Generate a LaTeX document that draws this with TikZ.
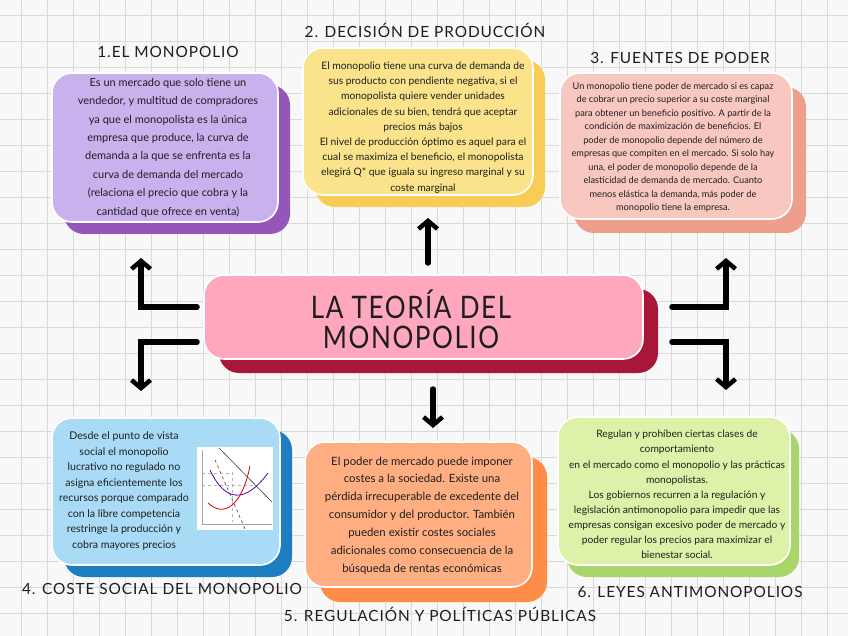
\documentclass[tikz,border=0pt]{standalone}
\usepackage{fontspec}
\setmainfont{Lato}
\newfontfamily\tfont[LetterSpace=6]{Lato}
\newfontfamily\cfont[LetterSpace=5,FakeStretch=0.84]{Lato}
\usetikzlibrary{arrows.meta}
\definecolor{bgcol}{HTML}{F8F8F8}
\definecolor{gridcol}{HTML}{D9D9D9}
\definecolor{pfront}{HTML}{C9B1EE}
\definecolor{pshade}{HTML}{9655B8}
\definecolor{yfront}{HTML}{FBE38B}
\definecolor{yshade}{HTML}{F9CD55}
\definecolor{sfront}{HTML}{F8C8C0}
\definecolor{sshade}{HTML}{EE9E8D}
\definecolor{cfront}{HTML}{FFA8BD}
\definecolor{cshade}{HTML}{A8173A}
\definecolor{bfront}{HTML}{A9DBF7}
\definecolor{bshade}{HTML}{1D7DC1}
\definecolor{ofront}{HTML}{FFAE82}
\definecolor{oshade}{HTML}{FF8D48}
\definecolor{gfront}{HTML}{DDF2A8}
\definecolor{gshade}{HTML}{A9D66A}
\definecolor{ink}{HTML}{1E1E1E}
\begin{document}
\begin{tikzpicture}[x=1pt,y=-1pt,
  front/.style={draw=white, line width=1.6pt, rounded corners=20pt, fill=#1, inner sep=0pt},
  shadebox/.style={rounded corners=20pt, fill=#1, inner sep=0pt},
  txt/.style={align=center, text=ink, inner sep=0pt},
  ttl/.style={text=ink, inner sep=0pt, font=\tfont\fontsize{15.4}{18}\selectfont},
  arr/.style={draw=black, line width=5.5pt, line join=miter, line cap=round, -{Straight Barb[length=8pt,width=19pt,line width=4.5pt]}},
  gax/.style={draw=gray!70, line width=0.5pt},
]
\useasboundingbox (0,0) rectangle (848,636);
\fill[bgcol] (0,0) rectangle (848,636);
\foreach \x in {21,47,...,848} \draw[gridcol, line width=0.6pt] (\x,0) -- (\x,636);
\foreach \y in {15,41,...,636} \draw[gridcol, line width=0.6pt] (0,\y) -- (848,\y);

% ---- box 1
\node[shadebox=pshade, minimum width=226pt, minimum height=149pt] (s1) at (177,159.5) {};
\node[front=pfront, minimum width=226pt, minimum height=149pt] (b1) at (165,147.5) {};
\node[txt, font=\fontsize{11}{18.4}\selectfont] (t1) at (168,147.5) {Es un mercado que solo tiene un\\vendedor, y multitud de compradores\\ya que el monopolista es la única\\empresa que produce, la curva de\\demanda a la que se enfrenta es la\\curva de demanda del mercado\\(relaciona el precio que cobra y la\\cantidad que ofrece en venta)};
\node[ttl] (h1) at (168,52) {1.EL MONOPOLIO};

% ---- box 2
\node[shadebox=yshade, minimum width=230pt, minimum height=147pt] (s2) at (430,133.5) {};
\node[front=yfront, minimum width=230pt, minimum height=147pt] (b2) at (418,121.5) {};
\node[txt, font=\fontsize{10.3}{15.2}\selectfont] (t2) at (423,127.5) {El monopolio tiene una curva de demanda de\\sus producto con pendiente negativa, si el\\monopolista quiere vender unidades\\adicionales de su bien, tendrá que aceptar\\precios más bajos\\El nivel de producción óptimo es aquel para el\\cual se maximiza el beneficio, el monopolista\\elegirá Q* que iguala su ingreso marginal y su\\coste marginal};
\node[ttl] (h2) at (425,30) {2. DECISIÓN DE PRODUCCIÓN};

% ---- box 3
\node[shadebox=sshade, minimum width=232pt, minimum height=146pt] (s3) at (690,160) {};
\node[front=sfront, minimum width=232pt, minimum height=146pt] (b3) at (676,146) {};
\node[txt, font=\fontsize{9.2}{13.5}\selectfont] (t3) at (673,147.5) {Un monopolio tiene poder de mercado si es capaz\\de cobrar un precio superior a su coste marginal\\para obtener un beneficio positivo. A partir de la\\condición de maximización de beneficios. El\\poder de monopolio depende del número de\\empresas que compiten en el mercado. Si solo hay\\una, el poder de monopolio depende de la\\elasticidad de demanda de mercado. Cuanto\\menos elástica la demanda, más poder de\\monopolio tiene la empresa.};
\node[ttl] (h3) at (680,58) {3. FUENTES DE PODER};

% ---- center
\node[shadebox=cshade, minimum width=439pt, minimum height=84pt] (cs) at (438.5,331) {};
\node[front=cfront, minimum width=439pt, minimum height=84pt] (c) at (423.5,317) {};
\node[txt, font=\cfont\fontsize{31}{30}\selectfont] (ct) at (411,319) {LA TEORÍA DEL\\MONOPOLIO};

% ---- box 4
\node[shadebox=bshade, minimum width=228pt, minimum height=147pt] (s4) at (178,503.5) {};
\node[front=bfront, minimum width=228pt, minimum height=147pt] (b4) at (166,491.5) {};
\node[txt, font=\fontsize{10.6}{15.5}\selectfont] (t4) at (124,491) {Desde el punto de vista\\social el monopolio\\lucrativo no regulado no\\asigna eficientemente los\\recursos porque comparado\\con la libre competencia\\restringe la producción y\\cobra mayores precios};
\node[fill=white, minimum width=76pt, minimum height=83pt, inner sep=0pt] (g) at (235,488.5) {};
\draw[gax] (202,450) -- (202,524) -- (272,524);
\draw[gray!50!black, line width=0.6pt] (219,448) -- (272,502);
\draw[gray!50!black, line width=0.6pt, dashed] (215,460) -- (245,529);
\draw[gray!60, line width=0.4pt, dashed] (202,473) -- (232,473);
\draw[gray!60, line width=0.4pt, dashed] (202,485) -- (257,485);
\draw[gray!60, line width=0.4pt, dashed] (232,472) -- (232,522);
\draw[violet!70!blue, line width=0.8pt] (210,470) .. controls (225,502) and (245,504) .. (268,473);
\draw[red!85!black, line width=0.8pt] (208,503) .. controls (224,518) and (242,506) .. (250,466);
\node[ttl] (h4) at (162,589) {4. COSTE SOCIAL DEL MONOPOLIO};

% ---- box 5
\node[shadebox=oshade, minimum width=227pt, minimum height=145pt] (s5) at (433.5,529.5) {};
\node[front=ofront, minimum width=227pt, minimum height=145pt] (b5) at (418.5,514.5) {};
\node[txt, font=\fontsize{11.4}{17.9}\selectfont] (t5) at (422,515.5) {El poder de mercado puede imponer\\costes a la sociedad. Existe una\\pérdida irrecuperable de excedente del\\consumidor y del productor. También\\pueden existir costes sociales\\adicionales como consecuencia de la\\búsqueda de rentas económicas};
\node[ttl] (h5) at (440,614) {5. REGULACIÓN Y POLÍTICAS PÚBLICAS};

% ---- box 6
\node[shadebox=gshade, minimum width=232pt, minimum height=148pt] (s6) at (683,503) {};
\node[front=gfront, minimum width=232pt, minimum height=148pt] (b6) at (674,491) {};
\node[txt, font=\fontsize{10.2}{15.1}\selectfont] (t6) at (677,494.5) {Regulan y prohíben ciertas clases de\\comportamiento\\en el mercado como el monopolio y las prácticas\\monopolistas.\\Los gobiernos recurren a la regulación y\\legislación antimonopolio para impedir que las\\empresas consigan excesivo poder de mercado y\\poder regular los precios para maximizar el\\bienestar social.};
\node[ttl] (h6) at (690,592) {6. LEYES ANTIMONOPOLIOS};

% ---- connectors
\coordinate (luS) at (197,307); \coordinate (luE) at (141,258);
\coordinate (ldS) at (197,342); \coordinate (ldE) at (141,391);
\coordinate (ruS) at (672,307); \coordinate (ruE) at (726,258);
\coordinate (rdS) at (672,342); \coordinate (rdE) at (726,390);
\coordinate (upS) at (428,263); \coordinate (upE) at (428,218);
\coordinate (dnS) at (433,389); \coordinate (dnE) at (433,428);
\draw[arr] (luS) -| (luE);
\draw[arr] (ldS) -| (ldE);
\draw[arr] (ruS) -| (ruE);
\draw[arr] (rdS) -| (rdE);
\draw[arr] (upS) -- (upE);
\draw[arr] (dnS) -- (dnE);
\end{tikzpicture}
\end{document}
